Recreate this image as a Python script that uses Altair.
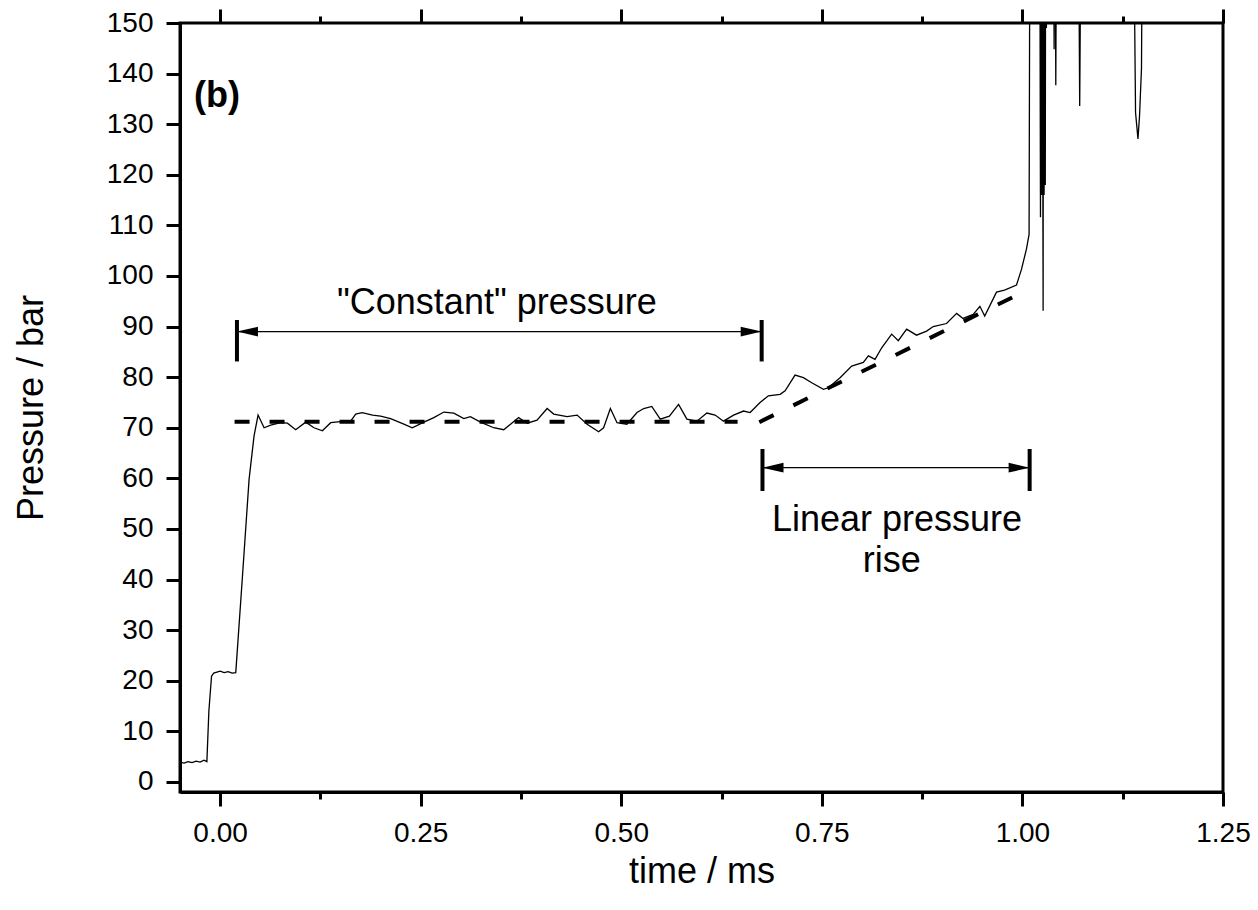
import altair as alt
import pandas as pd

FONT = "Liberation Sans"

# ---------------- data ----------------
t_ms = [
    -0.050, -0.045, -0.040, -0.035, -0.030, -0.025, -0.020, -0.0165, -0.0140, -0.0107,
    -0.008, -0.004, 0.000, 0.005, 0.010, 0.015, 0.0195, 0.0280, 0.0361, 0.0423,
    0.0473, 0.0548, 0.0631, 0.0756, 0.0839, 0.0942, 0.1067, 0.1170, 0.1275, 0.1378,
    0.1500, 0.1627, 0.1690, 0.1770, 0.1900, 0.2000, 0.2125, 0.2290, 0.2395, 0.2540,
    0.2664, 0.2789, 0.2913, 0.3037, 0.3120, 0.3245, 0.3410, 0.3535, 0.3620, 0.3720,
    0.3827, 0.3950, 0.4076, 0.4158, 0.4325, 0.4450, 0.4574, 0.4718, 0.4780, 0.4864,
    0.4947, 0.5070, 0.5196, 0.5280, 0.5380, 0.5486, 0.5600, 0.5714, 0.5818, 0.5943,
    0.6067, 0.6170, 0.6274, 0.6400, 0.6523, 0.6606, 0.6730, 0.6834, 0.6980, 0.7042,
    0.7166, 0.7270, 0.7374, 0.7520, 0.7580, 0.7727, 0.7872, 0.8017, 0.8080, 0.8163,
    0.8246, 0.8370, 0.8453, 0.8557, 0.8680, 0.8806, 0.8888, 0.9054, 0.9180, 0.9260,
    0.9386, 0.9470, 0.9530, 0.9677, 0.9777, 0.9926, 0.9988, 1.0050, 1.0083, 1.0095,
    1.0215, 1.0225, 1.0232, 1.0240, 1.0248, 1.0255, 1.0258, 1.0262, 1.0270, 1.0278,
    1.0285, 1.0290, 1.0299, 1.0305, 1.0385, 1.0395, 1.0405, 1.0416, 1.0428, 1.0694,
    1.0714, 1.0735, 1.1378, 1.1410, 1.1440, 1.1460, 1.1484, 1.1500, 1.1600,
]
p_bar = [
    3.9, 3.7, 4.0, 3.8, 4.1, 3.9, 4.3, 4.0, 14.0, 20.9,
    21.5, 21.7, 21.9, 21.6, 21.8, 21.5, 21.6, 41.0, 59.8, 68.4,
    72.5, 70.0, 70.5, 71.0, 70.9, 69.6, 71.1, 70.0, 69.4, 71.0,
    71.2, 71.3, 72.7, 73.0, 72.5, 72.3, 71.8, 70.7, 70.0, 71.1,
    72.0, 73.1, 72.9, 71.8, 72.2, 71.1, 70.0, 69.6, 70.7, 72.0,
    70.9, 71.5, 73.8, 72.7, 72.2, 72.5, 70.7, 69.2, 70.0, 73.8,
    71.0, 70.7, 73.0, 73.8, 74.2, 71.7, 72.3, 74.6, 71.7, 71.3,
    72.9, 72.5, 71.3, 72.5, 73.3, 73.0, 75.0, 76.3, 76.6, 77.3,
    80.4, 79.9, 78.9, 77.6, 77.9, 79.9, 82.2, 82.9, 84.2, 83.5,
    85.8, 88.5, 87.2, 89.5, 88.3, 89.1, 90.0, 90.6, 92.6, 91.6,
    92.4, 94.0, 92.1, 96.8, 97.2, 98.2, 101.3, 105.3, 108.2, 185.0,
    185.0, 111.6, 185.0, 116.0, 185.0, 115.0, 93.1, 185.0, 116.0, 185.0,
    118.0, 185.0, 149.0, 185.0, 185.0, 144.8, 185.0, 137.7, 185.0, 185.0,
    133.6, 185.0, 185.0, 132.3, 127.1, 131.7, 141.0, 185.0, 185.0,
]

# dashed guide lines: horizontal "constant" level and sloped linear fit
flat_t = [0.018, 0.645]
flat_p = [71.2, 71.2]
slope_t = [0.672, 0.993]
slope_p = [71.1, 96.2]

# bracket end bars
bar_t = [0.021, 0.675, 0.676, 1.009]
bar_lo = [83.1, 83.1, 57.5, 57.5]
bar_hi = [91.3, 91.3, 65.8, 65.8]

# double-headed arrows
arrow_t1 = [0.021, 0.676]
arrow_t2 = [0.675, 1.009]
arrow_p = [89.0, 62.1]
head_t = [0.021, 0.675, 0.676, 1.009]
head_p = [89.0, 89.0, 62.1, 62.1]
head_dir = ["left", "right", "left", "right"]

# annotation texts
note_text = ['"Constant" pressure', "Linear pressure", "rise"]
note_t = [0.345, 0.8436, 0.837]
note_p = [92.4, 49.6, 41.4]
panel_text = ["(b)"]
panel_t = [-0.0324]
panel_p = [133.3]

x_tick_values = [0.0, 0.125, 0.25, 0.375, 0.5, 0.625, 0.75, 0.875, 1.0, 1.125, 1.25]
y_tick_values = list(range(0, 151, 5))

# ---------------- chart ----------------
df_main = pd.DataFrame({"t": t_ms, "p": p_bar, "i": range(len(t_ms))})
df_flat = pd.DataFrame({"t": [flat_t[0]], "t2": [flat_t[1]], "p": [flat_p[0]], "p2": [flat_p[1]]})
df_slope = pd.DataFrame({"t": [slope_t[0]], "t2": [slope_t[1]], "p": [slope_p[0]], "p2": [slope_p[1]]})
df_bar = pd.DataFrame({"t": bar_t, "p": bar_lo, "p2": bar_hi})
df_arrow = pd.DataFrame({"t": arrow_t1, "t2": arrow_t2, "p": arrow_p})
df_head = pd.DataFrame({"t": head_t, "p": head_p, "dir": head_dir})
df_note = pd.DataFrame({"t": note_t, "p": note_p, "txt": note_text})
df_panel = pd.DataFrame({"t": panel_t, "p": panel_p, "txt": panel_text})
df_top = pd.DataFrame({"t": x_tick_values})

xs = alt.Scale(domain=[-0.05, 1.25], nice=False, zero=False)
ys = alt.Scale(domain=[-2, 150], nice=False, zero=False)

x_major = "abs(datum.value*4 - round(datum.value*4)) < 0.001"
y_major = "datum.value % 10 == 0"

x_axis = alt.Axis(
    values=x_tick_values, title="time / ms",
    labelExpr=f"{x_major} ? format(datum.value, '.2f') : ''",
    tickSize={"condition": {"test": x_major, "value": 14}, "value": 7},
    labelPadding=13, titlePadding=7,
)
y_axis = alt.Axis(
    values=y_tick_values, title="Pressure / bar",
    labelExpr=f"{y_major} ? datum.label : ''",
    tickSize={"condition": {"test": y_major, "value": 14}, "value": 7},
    labelPadding=13, titlePadding=56,
)
top_axis = alt.Axis(
    orient="top", values=x_tick_values, title=None, labels=False, domain=False,
    tickSize={"condition": {"test": x_major, "value": 14}, "value": 7},
)

X = lambda f: alt.X(f, scale=xs)
Y = lambda f: alt.Y(f, scale=ys)

main = alt.Chart(df_main).mark_line(color="black", strokeWidth=1.3, clip=True).encode(
    x=alt.X("t:Q", scale=xs, axis=x_axis),
    y=alt.Y("p:Q", scale=ys, axis=y_axis),
    order="i:Q",
)
flat = alt.Chart(df_flat).mark_rule(color="black", strokeWidth=4, strokeDash=[15, 20]).encode(
    x=X("t:Q"), x2="t2:Q", y=Y("p:Q"), y2="p2:Q"
)
slope = alt.Chart(df_slope).mark_rule(color="black", strokeWidth=4, strokeDash=[16, 22]).encode(
    x=X("t:Q"), x2="t2:Q", y=Y("p:Q"), y2="p2:Q"
)
bars = alt.Chart(df_bar).mark_rule(color="black", strokeWidth=4).encode(
    x=X("t:Q"), y=Y("p:Q"), y2="p2:Q"
)
arrows = alt.Chart(df_arrow).mark_rule(color="black", strokeWidth=1.3).encode(
    x=X("t:Q"), x2="t2:Q", y=Y("p:Q")
)
left_path = "M0,0 L1,-0.23 L1,0.23 Z"
right_path = "M0,0 L-1,-0.23 L-1,0.23 Z"
heads = alt.Chart(df_head).mark_point(filled=True, opacity=1, size=1764, color="black", strokeWidth=0).encode(
    x=X("t:Q"), y=Y("p:Q"),
    shape=alt.Shape("dir:N", scale=alt.Scale(domain=["left", "right"], range=[left_path, right_path]), legend=None),
)
notes = alt.Chart(df_note).mark_text(font=FONT, fontSize=36, color="black", align="center", baseline="alphabetic").encode(
    x=X("t:Q"), y=Y("p:Q"), text="txt:N"
)
panel = alt.Chart(df_panel).mark_text(font=FONT, fontSize=36, fontWeight="bold", color="black", align="left", baseline="alphabetic").encode(
    x=X("t:Q"), y=Y("p:Q"), text="txt:N"
)

group = alt.layer(main, flat, slope, bars, arrows, heads, notes, panel)

top = alt.Chart(df_top).mark_point(opacity=0).encode(
    x=alt.X("t:Q", scale=xs, axis=top_axis)
)

chart = alt.layer(group, top).resolve_scale(x="independent").properties(
    width=1043, height=769,
    autosize="none",
    background="white",
    padding={"left": 180, "top": 23, "right": 35, "bottom": 118},
).configure_view(
    stroke="black", strokeWidth=3
).configure_axis(
    domainColor="black", domainWidth=3, tickColor="black", tickWidth=3,
    labelFont=FONT, labelFontSize=28, labelColor="black",
    titleFont=FONT, titleFontSize=36, titleFontWeight="normal", titleColor="black",
    labelFlush=False, labelOverlap=False, labelBound=False, grid=False,
)

chart.save("out.html", embed_options={"renderer": "svg", "actions": False})
